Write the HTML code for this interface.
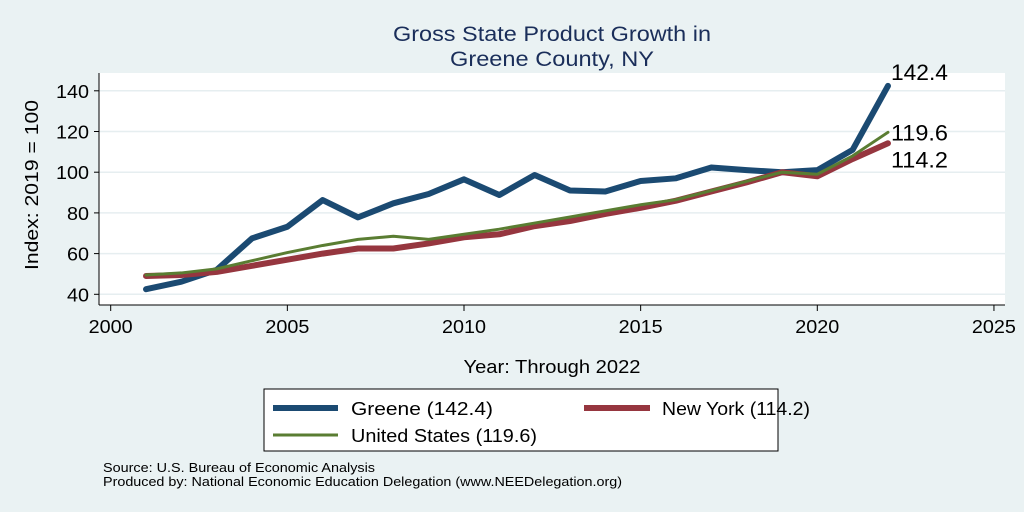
<!DOCTYPE html>
<html><head><meta charset="utf-8"><style>
body{margin:0;background:#eaf2f3;font-family:"Liberation Sans",sans-serif;}
svg{display:block}
</style></head><body>
<svg width="1024" height="512" xmlns="http://www.w3.org/2000/svg" id="chart">
<rect x="0" y="0" width="1024" height="512" fill="#eaf2f3"/>
<text x="552" y="41" text-anchor="middle" font-size="21" textLength="318" lengthAdjust="spacingAndGlyphs" fill="#1a2e5a">Gross State Product Growth in</text>
<text x="552" y="66" text-anchor="middle" font-size="21" textLength="204" lengthAdjust="spacingAndGlyphs" fill="#1a2e5a">Greene County, NY</text>
<rect x="99" y="73" width="906" height="232" fill="#ffffff"/>
<g id="grid"></g>
<g id="series"></g>
<line x1="99" y1="73" x2="99" y2="305" stroke="#000" stroke-width="1"/>
<line x1="99" y1="305" x2="1005" y2="305" stroke="#000" stroke-width="1"/>
<g id="yticks"></g>
<g id="xticks"></g>
<text transform="translate(38,185) rotate(-90)" text-anchor="middle" font-size="18" textLength="170" lengthAdjust="spacingAndGlyphs" fill="#000">Index: 2019 = 100</text>
<text x="552" y="373" text-anchor="middle" font-size="18" textLength="177" lengthAdjust="spacingAndGlyphs" fill="#000">Year: Through 2022</text>
<g id="endlabels"></g>
<g>
<rect x="264" y="389" width="514" height="62" fill="#fff" stroke="#000" stroke-width="1"/>
<g><line x1="273" y1="408" x2="338" y2="408" stroke="#1b4a72" stroke-width="6"/><text x="351" y="415" font-size="18" textLength="142" lengthAdjust="spacingAndGlyphs">Greene  (142.4)</text></g>
<g><line x1="584" y1="408" x2="650" y2="408" stroke="#96363f" stroke-width="6"/><text x="662" y="415" font-size="18" textLength="148" lengthAdjust="spacingAndGlyphs">New York (114.2)</text></g>
<g><line x1="273" y1="435" x2="338" y2="435" stroke="#5a7d32" stroke-width="3"/><text x="351" y="442" font-size="18" textLength="186" lengthAdjust="spacingAndGlyphs">United States (119.6)</text></g>
</g>
<text x="103" y="472" font-size="12.5" textLength="272" lengthAdjust="spacingAndGlyphs">Source: U.S. Bureau of Economic Analysis</text>
<text x="103" y="486" font-size="12.5" textLength="519" lengthAdjust="spacingAndGlyphs">Produced by: National Economic Education Delegation (www.NEEDelegation.org)</text>
</svg>
<script>
const years=[2001,2002,2003,2004,2005,2006,2007,2008,2009,2010,2011,2012,2013,2014,2015,2016,2017,2018,2019,2020,2021,2022];
const greene=[42.5,46.2,52,67.5,73.2,86.3,77.8,84.7,89.3,96.5,88.8,98.6,91,90.5,95.7,97,102.3,101,100,101,111,142.4];
const newYork=[49,49.5,51,54,57,60,62.5,62.5,65,68,69.5,73.5,76,79.5,82.5,86,90.5,95,100,98,106.5,114.2];
const unitedStates=[49.5,50.5,52.5,56.5,60.5,64,67,68.5,67,69.5,72,75,78,81,84,86.5,91,95.5,100,99,108,119.6];
const yTicks=[40,60,80,100,120,140];
const xTicks=[2000,2005,2010,2015,2020,2025];
const NS="http://www.w3.org/2000/svg";
function X(v){return 110.7+(v-2000)*35.33;}
function Y(v){return 294.3-(v-40)*2.035;}
function mk(t,a,p){const e=document.createElementNS(NS,t);for(const k in a)e.setAttribute(k,a[k]);p.appendChild(e);return e;}
const grid=document.getElementById('grid'),yt=document.getElementById('yticks'),xt=document.getElementById('xticks');
yTicks.forEach(v=>{
 const g=mk('line',{x1:99,x2:1005,y1:Y(v),y2:Y(v),stroke:'#e6eef0','stroke-width':1.5},grid);
 
 
 const t=mk('line',{x1:94,x2:99,y1:Y(v),y2:Y(v),stroke:'#000'},yt);
 
 
 const s=String(v);
 const l=mk('text',{x:89,y:Y(v)+7,'text-anchor':'end','font-size':18,textLength:s.length*11,lengthAdjust:'spacingAndGlyphs'},yt);l.textContent=s;
 
 
});
xTicks.forEach(v=>{
 const t=mk('line',{x1:X(v),x2:X(v),y1:305,y2:311,stroke:'#000'},xt);
 
 
 const l=mk('text',{x:X(v),y:333,'text-anchor':'middle','font-size':18,textLength:44,lengthAdjust:'spacingAndGlyphs'},xt);l.textContent=v;
 
 
});
const sg=document.getElementById('series');
function line(vals,col,w,name){
 const p=mk('polyline',{points:vals.map((v,i)=>X(years[i])+','+Y(v)).join(' '),fill:'none',stroke:col,'stroke-width':w,'stroke-linejoin':'round','stroke-linecap':'round'},sg);
 
 
}
line(greene,'#1b4a72',6,'line-greene');
line(newYork,'#96363f',6,'line-new-york');
line(unitedStates,'#5a7d32',3,'line-united-states');
const el=document.getElementById('endlabels');const last=years.length-1;
[[greene,-6,'end-label-greene'],[unitedStates,8,'end-label-united-states'],[newYork,24,'end-label-new-york']].forEach(([s,dy,n])=>{
 const t=mk('text',{x:X(years[last])+3,y:Y(s[last])+dy,'font-size':22,textLength:57,lengthAdjust:'spacingAndGlyphs'},el);t.textContent=s[last].toFixed(1);
 
 
});
</script>
</body></html>
